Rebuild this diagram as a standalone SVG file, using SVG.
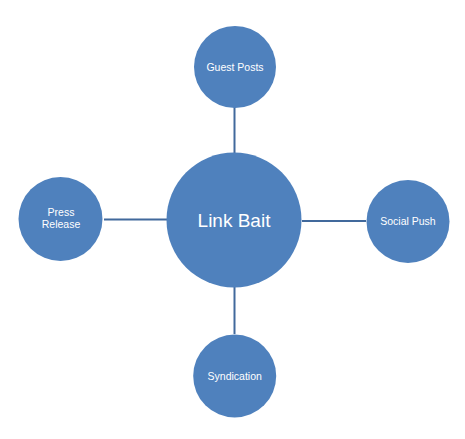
<svg xmlns="http://www.w3.org/2000/svg" width="465" height="439" viewBox="0 0 465 439">
<style>
.node{fill:#4F81BD;}
.lbl{fill:#FFFFFF;font-family:"Liberation Sans",Arial,sans-serif;font-size:10.5px;text-anchor:middle;}
.big{font-size:19px;}
.conn{stroke:#41699C;stroke-width:2;fill:none;}
</style>
<rect width="465" height="439" fill="#FFFFFF"/>
<g id="connectors">
<line class="conn" x1="234.5" y1="107" x2="234.5" y2="153"/>
<line class="conn" x1="104" y1="219.5" x2="167" y2="219.5"/>
<line class="conn" x1="302" y1="221" x2="366" y2="221"/>
<line class="conn" x1="234.5" y1="287" x2="234.5" y2="334"/>
</g>
<g id="link-bait">
<circle class="node" cx="234" cy="220" r="67.5"/>
<text class="lbl big" x="234" y="226.5">Link Bait</text>
</g>
<g id="guest-posts">
<circle class="node" cx="235" cy="67" r="41"/>
<text class="lbl" x="235" y="70.5">Guest Posts</text>
</g>
<g id="press-release">
<circle class="node" cx="60.5" cy="219" r="42"/>
<text class="lbl" x="61" y="215.5">Press</text>
<text class="lbl" x="61" y="228">Release</text>
</g>
<g id="social-push">
<circle class="node" cx="408" cy="221.5" r="41.5"/>
<text class="lbl" x="408" y="225">Social Push</text>
</g>
<g id="syndication">
<circle class="node" cx="234.7" cy="376" r="41.5"/>
<text class="lbl" x="234.7" y="380">Syndication</text>
</g>
</svg>
